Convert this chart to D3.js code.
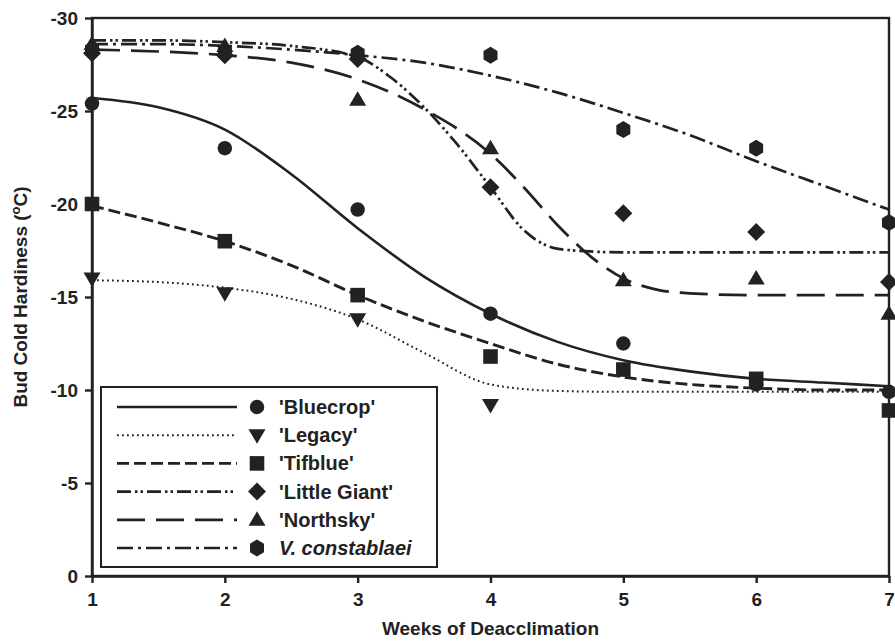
<!DOCTYPE html>
<html>
<head>
<meta charset="utf-8">
<script src="https://cdn.jsdelivr.net/npm/d3@7"></script>
<style>
  body { margin: 0; background: #fff; }
  svg { display: block; }
  text { font-family: "Liberation Sans", Arial, sans-serif; fill: #222; }
</style>
</head>
<body>
<svg id="chart" width="895" height="641"></svg>
<script>
// ---------------- data ----------------
const weeks = [1, 2, 3, 4, 5, 6, 7];
const legacyWeeks = [1, 2, 3, 4];
const yTicks = [0, -5, -10, -15, -20, -25, -30];
const xTicks = [1, 2, 3, 4, 5, 6, 7];

const seriesNames = ["'Bluecrop'", "'Legacy'", "'Tifblue'", "'Little Giant'", "'Northsky'", "V. constablaei"];

// observed points
const bluecropObs     = [-25.4, -23.0, -19.7, -14.1, -12.5, -10.3, -9.9];
const legacyObs       = [-16.0, -15.2, -13.8, -9.2];
const tifblueObs      = [-20.0, -18.0, -15.1, -11.8, -11.1, -10.6, -8.9];
const littleGiantObs  = [-28.1, -28.0, -27.8, -20.9, -19.5, -18.5, -15.8];
const northskyObs     = [-28.6, -28.5, -25.6, -23.0, -15.9, -16.0, -14.1];
const constablaeiObs  = [-28.3, -28.2, -28.1, -28.0, -24.0, -23.0, -19.0];

// fitted curves
const fitX      = [1, 1.5, 2, 2.5, 3, 3.5, 4, 4.5, 5, 5.5, 6, 6.5, 7];
const bluecropFit    = [-25.7, -25.2, -24.0, -21.6, -18.7, -16.1, -14.1, -12.6, -11.6, -11.0, -10.6, -10.4, -10.2];
const legacyFit      = [-15.9, -15.8, -15.5, -14.9, -13.8, -12.0, -10.3, -9.95, -9.9, -9.9, -9.9, -9.9, -9.9];
const tifblueFit     = [-19.9, -19.0, -18.0, -16.7, -15.1, -13.7, -12.5, -11.4, -10.7, -10.3, -10.1, -10.0, -10.0];
const constablaeiFit = [-28.6, -28.6, -28.5, -28.3, -28.0, -27.6, -26.9, -26.0, -24.9, -23.7, -22.3, -21.0, -19.7];
const lgFitX         = [1, 1.5, 2, 2.5, 3, 3.25, 3.5, 3.75, 4, 4.25, 4.5, 4.75, 5, 6, 7];
const littleGiantFit = [-28.8, -28.8, -28.7, -28.5, -27.9, -26.8, -25.2, -23.2, -20.9, -18.6, -17.6, -17.45, -17.4, -17.4, -17.4];
const nsFitX         = [1, 1.5, 2, 2.5, 3, 3.5, 4, 4.25, 4.5, 4.75, 5, 5.25, 5.5, 6, 7];
const northskyFit    = [-28.3, -28.2, -28.0, -27.6, -26.7, -25.1, -22.7, -20.9, -18.9, -17.2, -16.0, -15.4, -15.2, -15.1, -15.1];

// ---------------- drawing ----------------
const ink = "#222";
const svg = d3.select("#chart");
const x = d3.scaleLinear().domain([1, 7]).range([92, 889]);
const y = d3.scaleLinear().domain([0, -30]).range([576, 18]);

const series = [
  { name: seriesNames[0], ox: weeks, oy: bluecropObs, fx: fitX, fy: bluecropFit, dash: null, width: 2.6, shape: "circle" },
  { name: seriesNames[1], ox: legacyWeeks, oy: legacyObs, fx: fitX, fy: legacyFit, dash: "1.8,3.2", width: 2, shape: "triDown" },
  { name: seriesNames[2], ox: weeks, oy: tifblueObs, fx: fitX, fy: tifblueFit, dash: "12,5", width: 2.9, shape: "square" },
  { name: seriesNames[3], ox: weeks, oy: littleGiantObs, fx: lgFitX, fy: littleGiantFit, dash: "14,4,2.5,3,2.5,4", width: 2.7, shape: "diamond" },
  { name: seriesNames[4], ox: weeks, oy: northskyObs, fx: nsFitX, fy: northskyFit, dash: "28,11", width: 2.7, shape: "triUp" },
  { name: seriesNames[5], ox: weeks, oy: constablaeiObs, fx: fitX, fy: constablaeiFit, dash: "16,5,3,5", width: 2.7, shape: "hex" }
];

function markerPath(shape) {
  switch (shape) {
    case "circle": return d3.symbol(d3.symbolCircle, 165)();
    case "square": return "M-7.3,-7.3H7.3V7.3H-7.3Z";
    case "triDown": return "M-8.5,-6H8.5L0,8.5Z";
    case "triUp": return "M0,-8.5L8.5,6H-8.5Z";
    case "diamond": return "M0,-9L9,0L0,9L-9,0Z";
    case "hex": return "M0,-8.5L7,-4.3V4.3L0,8.5L-7,4.3V-4.3Z";
  }
}

// frame
svg.append("rect").attr("x", x(1)).attr("y", y(-30))
  .attr("width", x(7) - x(1)).attr("height", y(0) - y(-30))
  .attr("fill", "none").attr("stroke", ink).attr("stroke-width", 2.4);

// axes
const xAxis = svg.append("g").attr("transform", `translate(0,${y(0)})`)
  .call(d3.axisBottom(x).tickValues(xTicks).tickFormat(d3.format("d")).tickSize(7).tickPadding(10).tickSizeOuter(0));
const yAxis = svg.append("g").attr("transform", `translate(${x(1)},0)`)
  .call(d3.axisLeft(y).tickValues(yTicks).tickFormat(d => d === 0 ? "0" : "-" + Math.abs(d)).tickSize(7).tickPadding(7).tickSizeOuter(0));
[xAxis, yAxis].forEach(g => {
  g.select(".domain").attr("stroke", ink).attr("stroke-width", 2.4);
  g.selectAll(".tick line").attr("stroke", ink).attr("stroke-width", 2.4);
  g.selectAll(".tick text").attr("fill", ink)
    .style("font-family", "'Liberation Sans', Arial, sans-serif")
    .style("font-size", "19px").style("font-weight", "bold");
});

// axis titles
svg.append("text").attr("x", (x(1) + x(7)) / 2).attr("y", 635)
  .attr("text-anchor", "middle").style("font-size", "19px").style("font-weight", "bold")
  .text("Weeks of Deacclimation");
const yt = svg.append("text").attr("transform", `translate(27,${(y(0) + y(-30)) / 2}) rotate(-90)`)
  .attr("text-anchor", "middle").style("font-size", "19px").style("font-weight", "bold");
yt.append("tspan").text("Bud Cold Hardiness (");
yt.append("tspan").attr("dy", -7).style("font-size", "13px").text("o");
yt.append("tspan").attr("dy", 7).text("C)");

// curves
const line = d3.line().x(d => x(d[0])).y(d => y(d[1])).curve(d3.curveMonotoneX);
series.forEach(s => {
  svg.append("path").datum(s.fx.map((v, i) => [v, s.fy[i]]))
    .attr("d", line).attr("fill", "none").attr("stroke", ink)
    .attr("stroke-width", s.width).attr("stroke-dasharray", s.dash);
});

// markers
series.forEach(s => {
  svg.append("g").selectAll("path").data(s.ox.map((v, i) => [v, s.oy[i]])).join("path")
    .attr("transform", d => `translate(${x(d[0])},${y(d[1])})`)
    .attr("d", markerPath(s.shape)).attr("fill", ink);
});

// legend
const lg = svg.append("g");
lg.append("rect").attr("x", 101).attr("y", 387).attr("width", 336).attr("height", 180)
  .attr("fill", "#fff").attr("stroke", ink).attr("stroke-width", 2);
series.forEach((s, i) => {
  const ry = 407 + i * 28.2;
  lg.append("line").attr("x1", 117).attr("x2", 237).attr("y1", ry).attr("y2", ry)
    .attr("stroke", ink).attr("stroke-width", s.width).attr("stroke-dasharray", s.dash);
  lg.append("path").attr("transform", `translate(257,${ry})`).attr("d", markerPath(s.shape)).attr("fill", ink);
  lg.append("text").attr("x", 279).attr("y", ry + 7)
    .style("font-size", "20px").style("font-weight", "bold").style("font-style", i === 5 ? "italic" : "normal")
    .text(s.name);
});
</script>
</body>
</html>
